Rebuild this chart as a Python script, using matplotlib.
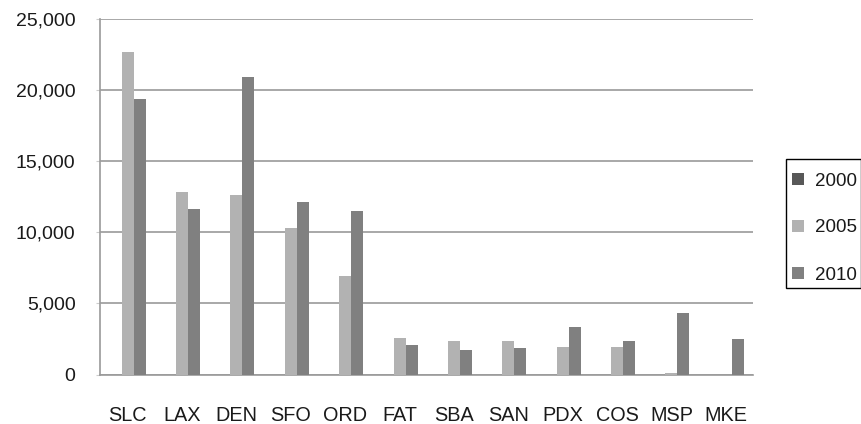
import matplotlib
matplotlib.use("Agg")
import matplotlib.pyplot as plt
import numpy as np
from matplotlib.patches import Patch, Rectangle

categories = ["SLC", "LAX", "DEN", "SFO", "ORD", "FAT", "SBA", "SAN", "PDX", "COS", "MSP", "MKE"]
series_names = ["2000", "2005", "2010"]
values_2000 = [0, 0, 0, 0, 0, 0, 0, 0, 0, 0, 0, 0]
values_2005 = [22700, 12850, 12650, 10320, 6940, 2590, 2380, 2380, 1960, 1960, 140, 0]
values_2010 = [19340, 11610, 20900, 12120, 11490, 2060, 1750, 1850, 3340, 2380, 4300, 2480]
yticks = [0, 5000, 10000, 15000, 20000, 25000]
colors = ["#585858", "#b2b2b2", "#808080"]

plt.rcParams["font.family"] = ["Liberation Sans", "DejaVu Sans"]

fig = plt.figure(figsize=(8.62, 4.24), dpi=100)
W, H = 862, 424
ax = fig.add_axes([100.5 / W, 1 - 374.5 / H, (753 - 100.5) / W, (374.5 - 19) / H])

x = np.arange(len(categories))
bw = 0.22
for i, (vals, c) in enumerate(zip([values_2000, values_2005, values_2010], colors)):
    ax.bar(x + (i - 1) * bw, vals, width=bw, color=c, edgecolor="none", zorder=3)

ax.set_xlim(-0.5, len(categories) - 0.5)
ax.set_ylim(0, 25000)
ax.set_yticks(yticks)
ax.set_yticklabels([f"{v:,}" for v in yticks])
ax.set_xticks(x)
ax.set_xticklabels(categories)
ax.yaxis.grid(True, color="#9a9a9a", linewidth=1.2, zorder=0)
for s in ["top", "right"]:
    ax.spines[s].set_visible(False)
for s in ["left", "bottom"]:
    ax.spines[s].set_color("#9a9a9a")
    ax.spines[s].set_linewidth(1.2)
ax.tick_params(axis="y", length=3, color="#cccccc", pad=15, labelsize=14, labelcolor="#1a1a1a")
ax.tick_params(axis="x", length=0, pad=23, labelsize=14.3, labelcolor="#1a1a1a")

# legend box
fig.patches.append(Rectangle((785.7 / W, 1 - 288 / H), (861 - 785.7) / W, (288 - 159.3) / H,
                             transform=fig.transFigure, facecolor="white", edgecolor="black",
                             linewidth=1.0, zorder=1))
handles = [Patch(facecolor=c, edgecolor="none") for c in colors]
fig.legend(handles, series_names, loc="upper left", bbox_to_anchor=(792.5 / W, 1 - 172.5 / H),
           frameon=False, fontsize=13.5, handlelength=0.6, handleheight=0.6,
           handletextpad=0.6, labelspacing=1.6, borderpad=0, borderaxespad=0,
           labelcolor="#1a1a1a")

fig.savefig("out.png", dpi=100)
